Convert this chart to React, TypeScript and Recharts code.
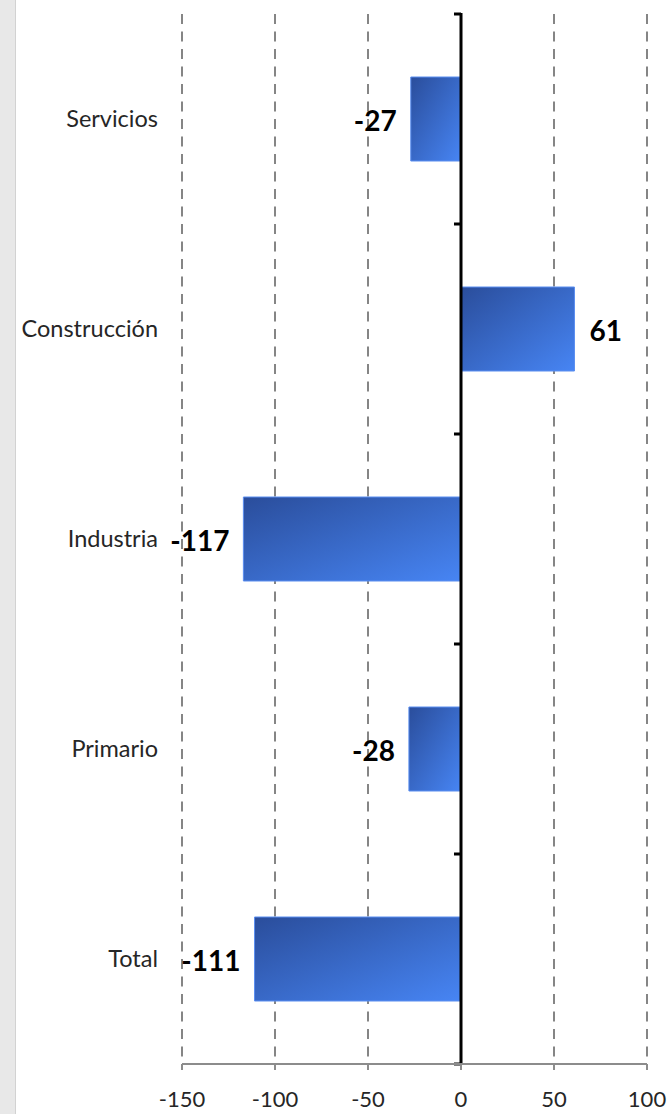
import React from "react";
import {
  BarChart,
  Bar,
  XAxis,
  YAxis,
  CartesianGrid,
  ReferenceLine,
  LabelList,
} from "recharts";

const categories = ["Servicios", "Construcción", "Industria", "Primario", "Total"];
const values = [-27, 61, -117, -28, -111];
const xTicks = [-150, -100, -50, 0, 50, 100];

const data = categories.map((name, i) => ({ name, value: values[i] }));

const FONT = "Lato, 'Open Sans', sans-serif";

// etiqueta del valor: a la izquierda si es negativo, a la derecha si es positivo
const ValueLabel = (props: any) => {
  const { x, y, width, height, value } = props;
  const neg = value < 0;
  const left = Math.min(x, x + width);
  const right = Math.max(x, x + width);
  return (
    <text
      x={neg ? left - 14 : right + 15}
      y={y + height / 2 + 1}
      textAnchor={neg ? "end" : "start"}
      dominantBaseline="central"
      fontFamily={FONT}
      fontWeight="bold"
      fontSize={28}
      fill="#000"
    >
      {value}
    </text>
  );
};

// eje del cero con marcas entre categorías
const ZeroLine = (props: any) => {
  const { x1, y1, y2 } = props;
  const top = Math.min(y1, y2);
  const bottom = Math.max(y1, y2);
  const step = (bottom - top) / categories.length;
  return (
    <g>
      <line x1={x1} y1={top - 1} x2={x1} y2={bottom} stroke="#000" strokeWidth={3} />
      {categories.concat([""]).map((_, i) => (
        <line
          key={i}
          x1={x1 - 7}
          x2={x1}
          y1={top + i * step}
          y2={top + i * step}
          stroke="#000"
          strokeWidth={3}
        />
      ))}
    </g>
  );
};

const App = () => {
  return (
    <div
      style={{
        position: "absolute",
        left: 0,
        top: 0,
        width: 671,
        height: 1114,
        background: "#fff",
      }}
    >
      <div
        style={{
          position: "absolute",
          left: 0,
          top: 0,
          width: 15,
          height: 1114,
          background: "#e8e8e8",
          borderRight: "1px solid #d2d2d2",
        }}
      />
      <BarChart
        layout="vertical"
        width={671}
        height={1114}
        data={data}
        margin={{ top: 14, right: 24, bottom: 10, left: 12 }}
      >
        <defs>
          <linearGradient id="barFill" x1="0" y1="0" x2="1" y2="1">
            <stop offset="0%" stopColor="#2a4d9b" />
            <stop offset="100%" stopColor="#4785f4" />
          </linearGradient>
        </defs>
        <CartesianGrid
          horizontal={false}
          stroke="#858585"
          strokeWidth={2}
          strokeDasharray="10 7.5"
        />
        <XAxis
          type="number"
          domain={[-150, 100]}
          ticks={xTicks}
          interval={0}
          height={40}
          axisLine={{ stroke: "#8c8c8c", strokeWidth: 2 }}
          tickLine={{ stroke: "#8c8c8c", strokeWidth: 2 }}
          tickSize={6}
          tickMargin={21}
          tick={{ fill: "#262626", fontSize: 22, fontFamily: FONT }}
        />
        <YAxis
          type="category"
          dataKey="name"
          width={170}
          axisLine={false}
          tickLine={false}
          tickSize={0}
          tickMargin={24}
          tick={{ fill: "#262626", fontSize: 23.5, fontFamily: FONT }}
        />
        <Bar
          dataKey="value"
          fill="url(#barFill)"
          stroke="#5a8ef0"
          strokeWidth={1}
          barSize={84}
          isAnimationActive={false}
        >
          <LabelList dataKey="value" content={<ValueLabel />} />
        </Bar>
        <ReferenceLine x={0} shape={(p: any) => <ZeroLine {...p} />} />
      </BarChart>
    </div>
  );
};

export default App;
